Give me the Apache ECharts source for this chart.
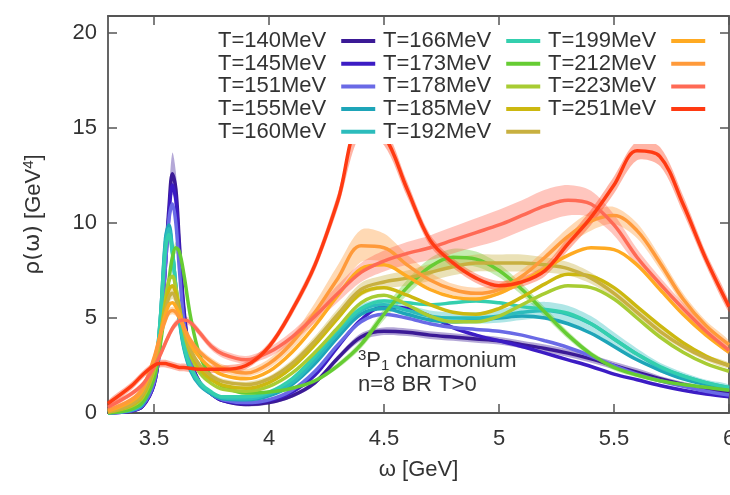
<!DOCTYPE html>
<html>
<head>
<meta charset="utf-8">
<script src="https://cdn.jsdelivr.net/npm/echarts@6/dist/echarts.min.js"></script>
<style>
  html, body { margin: 0; padding: 0; background: #ffffff; }
  #chart { width: 730px; height: 495px; }
</style>
</head>
<body>
<div id="chart"></div>
<script>
// Frequency grid (GeV), shared by every spectral function
const omega = [3.30, 3.40, 3.45, 3.50, 3.525, 3.55, 3.565, 3.58, 3.595, 3.61,
               3.63, 3.66, 3.70, 3.75, 3.80, 3.90, 4.00, 4.10, 4.20, 4.30,
               4.40, 4.50, 4.60, 4.70, 4.80, 4.90, 5.00, 5.10, 5.20, 5.30,
               5.40, 5.50, 5.60, 5.70, 5.80, 5.90, 6.00];

const temps = ['T=140MeV', 'T=145MeV', 'T=151MeV', 'T=155MeV', 'T=160MeV',
               'T=166MeV', 'T=173MeV', 'T=178MeV', 'T=185MeV', 'T=192MeV',
               'T=199MeV', 'T=212MeV', 'T=223MeV', 'T=251MeV'];

// Spectral function rho(omega) [GeV^4] for each temperature
const rho140 = [0.0, 0.1, 0.35, 1.5, 3.5, 8.0, 10.8, 12.6, 11.8, 9.0, 5.5, 2.8, 1.6, 1.0, 0.65, 0.45, 0.55, 0.9, 1.6, 2.9, 4.0, 4.3, 4.25, 4.1, 4.0, 3.9, 3.8, 3.6, 3.4, 3.15, 2.85, 2.5, 2.15, 1.8, 1.5, 1.25, 1.05];
const rho145 = [0.0, 0.1, 0.35, 1.5, 3.5, 7.8, 10.4, 12.0, 11.2, 8.6, 5.3, 2.7, 1.55, 1.0, 0.65, 0.5, 0.65, 1.1, 2.0, 3.5, 4.9, 5.6, 5.5, 5.1, 4.5, 4.1, 3.8, 3.5, 3.15, 2.8, 2.45, 2.05, 1.75, 1.45, 1.2, 1.0, 0.85];
const rho151 = [0.0, 0.12, 0.4, 1.6, 3.7, 7.8, 10.2, 11.0, 10.0, 7.6, 4.8, 2.6, 1.55, 1.0, 0.7, 0.55, 0.7, 1.2, 2.2, 3.6, 4.8, 5.2, 5.0, 4.7, 4.5, 4.4, 4.3, 4.1, 3.8, 3.45, 3.0, 2.5, 2.05, 1.7, 1.4, 1.15, 0.95];
const rho155 = [0.0, 0.15, 0.45, 1.9, 4.5, 9.2, 9.9, 8.6, 6.6, 4.9, 3.4, 2.2, 1.45, 1.0, 0.75, 0.7, 0.9, 1.5, 2.6, 4.0, 5.2, 5.5, 5.2, 4.9, 4.8, 4.9, 5.0, 5.1, 5.0, 4.7, 4.2, 3.5, 2.8, 2.25, 1.8, 1.5, 1.25];
const rho160 = [0.0, 0.15, 0.5, 2.0, 4.6, 9.0, 9.7, 8.5, 6.6, 5.0, 3.5, 2.3, 1.5, 1.05, 0.8, 0.75, 1.0, 1.6, 2.8, 4.2, 5.4, 5.7, 5.4, 5.1, 5.0, 5.0, 5.1, 5.3, 5.4, 5.2, 4.7, 3.9, 3.1, 2.4, 1.95, 1.6, 1.35];
const rho166 = [0.0, 0.18, 0.55, 2.1, 4.6, 8.6, 9.4, 8.4, 6.7, 5.1, 3.6, 2.4, 1.6, 1.1, 0.85, 0.85, 1.1, 1.8, 3.0, 4.4, 5.5, 5.9, 5.8, 5.7, 5.8, 5.9, 5.8, 5.6, 5.45, 5.25, 4.7, 3.9, 3.1, 2.45, 1.95, 1.6, 1.35];
const rho173 = [0.0, 0.2, 0.55, 1.8, 3.4, 5.6, 7.0, 8.2, 8.7, 8.5, 7.3, 5.0, 3.0, 1.9, 1.4, 1.05, 1.1, 1.3, 1.7, 2.5, 3.6, 5.2, 6.6, 7.7, 8.2, 8.1, 7.5, 6.5, 5.3, 4.1, 3.1, 2.4, 2.0, 1.7, 1.5, 1.35, 1.2];
const rho178 = [0.05, 0.35, 0.8, 2.2, 3.8, 6.0, 7.0, 7.2, 6.6, 5.6, 4.3, 3.0, 2.1, 1.55, 1.25, 1.15, 1.4, 2.1, 3.2, 4.5, 5.8, 6.2, 5.7, 5.1, 4.8, 4.8, 5.1, 5.7, 6.3, 6.7, 6.6, 6.0, 5.0, 4.0, 3.2, 2.6, 2.2];
const rho185 = [0.05, 0.4, 0.9, 2.4, 3.9, 5.7, 6.5, 6.7, 6.3, 5.5, 4.4, 3.2, 2.3, 1.75, 1.45, 1.3, 1.6, 2.4, 3.6, 5.0, 6.3, 6.6, 6.2, 5.7, 5.3, 5.2, 5.5, 6.1, 6.8, 7.3, 7.2, 6.6, 5.6, 4.6, 3.7, 3.0, 2.5];
const rho192 = [0.05, 0.45, 1.0, 2.5, 3.9, 5.4, 6.1, 6.3, 6.0, 5.3, 4.4, 3.3, 2.5, 1.95, 1.65, 1.5, 1.8, 2.6, 3.8, 5.2, 6.5, 6.9, 7.1, 7.4, 7.7, 7.9, 7.9, 7.9, 7.8, 7.6, 7.1, 6.3, 5.3, 4.3, 3.5, 2.9, 2.5];
const rho199 = [0.1, 0.6, 1.2, 2.8, 4.0, 5.2, 5.7, 5.8, 5.6, 5.2, 4.5, 3.6, 2.9, 2.35, 2.0, 1.8, 2.2, 3.2, 4.6, 6.2, 7.6, 7.8, 7.2, 6.5, 6.1, 6.0, 6.3, 6.9, 7.6, 8.3, 8.7, 8.6, 7.8, 6.5, 5.2, 4.1, 3.2];
const rho212 = [0.15, 0.7, 1.3, 2.9, 4.0, 4.9, 5.3, 5.4, 5.3, 5.0, 4.5, 3.8, 3.2, 2.7, 2.35, 2.1, 2.6, 3.7, 5.3, 7.1, 8.8, 8.7, 7.8, 7.0, 6.5, 6.3, 6.5, 7.2, 8.2, 9.3, 10.1, 10.4, 9.6, 7.9, 6.0, 4.6, 3.6];
const rho223 = [0.3, 1.0, 1.5, 2.4, 3.0, 3.7, 4.1, 4.45, 4.7, 4.85, 4.9, 4.75, 4.2, 3.5, 3.1, 2.8, 3.2, 4.0, 5.1, 6.3, 7.4, 8.0, 8.4, 8.7, 9.1, 9.5, 9.9, 10.4, 10.9, 11.2, 11.0, 9.9, 8.2, 6.8, 5.5, 4.3, 3.3];
const rho251 = [0.5, 1.4, 2.0, 2.5, 2.6, 2.6, 2.55, 2.5, 2.45, 2.4, 2.4, 2.35, 2.3, 2.3, 2.3, 2.5, 3.5, 5.4, 7.8, 11.2, 15.2, 14.6, 11.8, 9.1, 7.9, 7.1, 6.7, 6.9, 7.5, 8.9, 10.3, 12.0, 13.8, 13.5, 11.0, 8.1, 5.6];

// Error band half-widths for the curves whose uncertainty is visible
const err140 = [0, 0.03, 0.05, 0.15, 0.3, 0.5, 0.8, 1.1, 0.9, 0.6, 0.35, 0.2, 0.15, 0.1, 0.1, 0.1, 0.1, 0.1, 0.12, 0.15, 0.2, 0.2, 0.2, 0.2, 0.2, 0.2, 0.2, 0.2, 0.2, 0.2, 0.2, 0.2, 0.2, 0.15, 0.15, 0.12, 0.1];
const err160 = [0.02, 0.05, 0.1, 0.2, 0.3, 0.4, 0.4, 0.35, 0.3, 0.25, 0.2, 0.15, 0.1, 0.1, 0.1, 0.1, 0.1, 0.15, 0.2, 0.25, 0.3, 0.3, 0.3, 0.3, 0.3, 0.3, 0.35, 0.4, 0.45, 0.45, 0.4, 0.35, 0.3, 0.25, 0.2, 0.15, 0.15];
const err173 = [0.02, 0.05, 0.1, 0.15, 0.2, 0.25, 0.3, 0.3, 0.3, 0.3, 0.25, 0.2, 0.15, 0.1, 0.1, 0.1, 0.1, 0.1, 0.12, 0.15, 0.2, 0.3, 0.4, 0.45, 0.45, 0.4, 0.35, 0.3, 0.25, 0.2, 0.15, 0.15, 0.12, 0.1, 0.1, 0.1, 0.1];
const err192 = [0.05, 0.1, 0.1, 0.15, 0.2, 0.25, 0.3, 0.3, 0.3, 0.25, 0.2, 0.2, 0.15, 0.15, 0.15, 0.15, 0.15, 0.2, 0.25, 0.3, 0.35, 0.35, 0.4, 0.45, 0.45, 0.45, 0.45, 0.45, 0.4, 0.35, 0.3, 0.25, 0.2, 0.2, 0.15, 0.15, 0.15];
const err212 = [0.05, 0.1, 0.1, 0.15, 0.2, 0.2, 0.2, 0.2, 0.2, 0.2, 0.2, 0.2, 0.2, 0.2, 0.2, 0.2, 0.25, 0.35, 0.5, 0.7, 0.85, 0.75, 0.55, 0.4, 0.3, 0.3, 0.3, 0.35, 0.4, 0.45, 0.5, 0.45, 0.4, 0.35, 0.3, 0.25, 0.2];
const err223 = [0.1, 0.15, 0.15, 0.2, 0.2, 0.2, 0.2, 0.2, 0.2, 0.2, 0.2, 0.2, 0.2, 0.2, 0.2, 0.2, 0.25, 0.3, 0.35, 0.45, 0.5, 0.55, 0.6, 0.65, 0.7, 0.75, 0.8, 0.8, 0.85, 0.8, 0.7, 0.55, 0.45, 0.35, 0.3, 0.25, 0.2];
const err251 = [0.15, 0.2, 0.2, 0.2, 0.2, 0.2, 0.2, 0.2, 0.2, 0.2, 0.2, 0.2, 0.2, 0.2, 0.2, 0.2, 0.2, 0.25, 0.3, 0.4, 0.5, 0.5, 0.4, 0.3, 0.25, 0.25, 0.25, 0.25, 0.3, 0.35, 0.4, 0.45, 0.5, 0.5, 0.45, 0.35, 0.3];

// Axis tick positions
const xTicks = [3.5, 4, 4.5, 5, 5.5, 6];
const yTicks = [0, 5, 10, 15, 20];

const curves = [rho140, rho145, rho151, rho155, rho160, rho166, rho173,
                rho178, rho185, rho192, rho199, rho212, rho223, rho251];
const colors = ['#3b1a96', '#3c1cc4', '#6a6ae6', '#1ea5b8', '#2cbcbc', '#34cfae', '#66cc33',
                '#a8cc33', '#ccb810', '#c8b040', '#ffaa22', '#ff9a3a', '#ff6a55', '#ff3a12'];
const bands = [
  { k: 0, err: err140 }, { k: 4, err: err160 }, { k: 6, err: err173 },
  { k: 9, err: err192 }, { k: 11, err: err212 }, { k: 12, err: err223 },
  { k: 13, err: err251 }
];

const FONT = "'Liberation Sans', Arial, Helvetica, sans-serif";
const GREEK = "'DejaVu Sans', sans-serif";
const TXT = '#333333';
const FRAME = '#555555';

function bandSeries(b) {
  const vals = curves[b.k];
  const errs = b.err;
  return {
    type: 'custom',
    silent: true,
    z: 1,
    xAxisIndex: 0,
    yAxisIndex: 0,
    data: [[omega[0], 0]],
    renderItem: function (params, api) {
      const pts = [];
      for (let i = 0; i < omega.length; i++) {
        pts.push(api.coord([omega[i], vals[i] + errs[i]]));
      }
      for (let i = omega.length - 1; i >= 0; i--) {
        pts.push(api.coord([omega[i], Math.max(0, vals[i] - errs[i])]));
      }
      return {
        type: 'polygon',
        shape: { points: pts, smooth: 0.3 },
        style: { fill: colors[b.k], opacity: 0.38 }
      };
    }
  };
}

const series = bands.map(bandSeries);
temps.forEach(function (t, k) {
  series.push({
    type: 'line',
    name: t,
    xAxisIndex: 0,
    yAxisIndex: 0,
    data: omega.map(function (w, i) { return [w, curves[k][i]]; }),
    smooth: 0.35,
    symbol: 'none',
    showSymbol: false,
    color: colors[k],
    itemStyle: { color: colors[k] },
    lineStyle: { width: 3.5, color: colors[k] },
    z: 3
  });
});

function legendColumn(names, left) {
  return {
    show: true,
    orient: 'vertical',
    left: left,
    top: 30,
    padding: 0,
    itemGap: 0.7,
    itemWidth: 34,
    itemHeight: 4,
    align: 'right',
    icon: 'rect',
    selectedMode: false,
    z: 20,
    data: names,
    textStyle: { fontSize: 22, color: TXT, fontFamily: FONT, padding: [0, 10, 0, 0] }
  };
}

const axisCommon = {
  axisLine: { show: true, onZero: false, lineStyle: { color: FRAME, width: 1.8 } },
  splitLine: { show: false }
};

const option = {
  animation: false,
  backgroundColor: '#ffffff',
  grid: { left: 108, right: 1, top: 16, bottom: 82, containLabel: false, outerBoundsMode: 'none' },
  legend: [
    legendColumn(temps.slice(0, 5), 218),
    legendColumn(temps.slice(5, 10), 383),
    legendColumn(temps.slice(10, 14), 548)
  ],
  graphic: [
    {
      type: 'rect', silent: true, z: 10,
      shape: { x: 204, y: 28, width: 512, height: 116 },
      style: { fill: '#ffffff' }
    },
    {
      type: 'text', silent: true, z: 30,
      x: 358, y: 348,
      style: {
        text: '{sup|3}{b|P}{sub|1}{b| charmonium}',
        fill: TXT,
        rich: {
          b: { fontSize: 22, fontFamily: FONT, fill: TXT },
          sup: { fontSize: 15, fontFamily: FONT, fill: TXT, padding: [0, 0, 10, 0] },
          sub: { fontSize: 15, fontFamily: FONT, fill: TXT, padding: [10, 0, 0, 0] }
        }
      }
    },
    {
      type: 'text', silent: true, z: 30,
      x: 358, y: 374,
      style: { text: 'n=8 BR T>0', fontSize: 22, fontFamily: FONT, fill: TXT }
    }
  ],
  xAxis: [
    Object.assign({}, axisCommon, {
      type: 'value', min: 3.3, max: 6, position: 'bottom',
      axisTick: { show: true, inside: true, length: 9, customValues: xTicks, lineStyle: { color: FRAME, width: 1.5 } },
      axisLabel: { customValues: xTicks, margin: 15, fontSize: 22, color: TXT, fontFamily: FONT },
      name: 'ω [GeV]', nameLocation: 'middle', nameGap: 46,
      nameTextStyle: { fontSize: 22, color: TXT, fontFamily: FONT }
    }),
    Object.assign({}, axisCommon, {
      type: 'value', min: 3.3, max: 6, position: 'top',
      axisTick: { show: true, inside: true, length: 9, customValues: xTicks, lineStyle: { color: FRAME, width: 1.5 } },
      axisLabel: { show: false }
    })
  ],
  yAxis: [
    Object.assign({}, axisCommon, {
      type: 'value', min: 0, max: 20.9, position: 'left',
      axisTick: { show: true, inside: true, length: 9, customValues: yTicks, lineStyle: { color: FRAME, width: 1.5 } },
      axisLabel: { customValues: yTicks, margin: 11, fontSize: 22, color: TXT, fontFamily: FONT },
      name: '{g|ρ(ω)}{t| [GeV}{sup|4}{t|]}', nameLocation: 'middle', nameGap: 62,
      nameTextStyle: {
        fontSize: 22, color: TXT, fontFamily: FONT,
        rich: {
          g: { fontSize: 22, color: TXT, fontFamily: GREEK },
          t: { fontSize: 22, color: TXT, fontFamily: FONT },
          sup: { fontSize: 15, color: TXT, fontFamily: FONT, padding: [0, 0, 10, 0] }
        }
      }
    }),
    Object.assign({}, axisCommon, {
      type: 'value', min: 0, max: 20.9, position: 'right',
      axisTick: { show: true, inside: true, length: 9, customValues: yTicks, lineStyle: { color: FRAME, width: 1.5 } },
      axisLabel: { show: false }
    })
  ],
  series: series
};

const chart = echarts.init(document.getElementById('chart'), null, { renderer: 'canvas' });
chart.setOption(option);
</script>
</body>
</html>
